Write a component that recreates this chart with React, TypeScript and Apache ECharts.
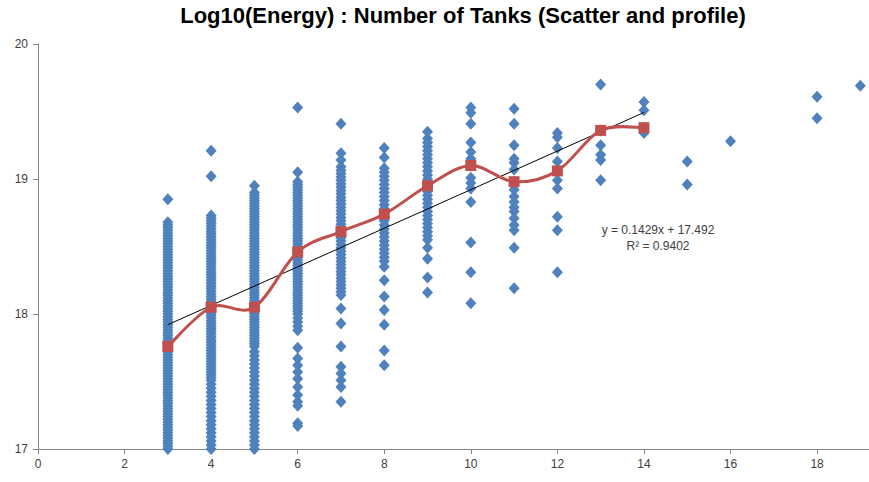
import React, { useEffect, useRef } from "react";
import * as echarts from "echarts";

const titleText = "Log10(Energy) : Number of Tanks (Scatter and profile)";

const scatterTanks = [3, 4, 5, 6, 7, 8, 9, 10, 11, 12, 13, 14, 15, 16, 18, 19];

const energyTanks3 = [18.85,
  18.68, 18.66, 18.64, 18.62, 18.6, 18.58, 18.56, 18.54, 18.52, 18.5, 18.48, 18.46, 18.44, 18.42, 18.4,
  18.38, 18.36, 18.34, 18.32, 18.3, 18.28, 18.26, 18.24, 18.22, 18.2, 18.18, 18.16, 18.14, 18.12, 18.1,
  18.08, 18.06, 18.04, 18.02, 18.0, 17.98, 17.96, 17.94, 17.92, 17.9, 17.88, 17.86, 17.84, 17.82, 17.8,
  17.78, 17.76, 17.74, 17.72, 17.7, 17.68, 17.66, 17.64, 17.62, 17.6, 17.58, 17.56, 17.54, 17.52, 17.5,
  17.48, 17.46, 17.44, 17.42, 17.4, 17.38, 17.36, 17.34, 17.32, 17.3, 17.28, 17.26, 17.24, 17.22, 17.2,
  17.18, 17.16, 17.14, 17.12, 17.1, 17.08, 17.06, 17.04, 17.02, 17.0];
const energyTanks4 = [19.21, 19.02,
  18.73, 18.71, 18.69, 18.67, 18.65, 18.63, 18.61, 18.59, 18.57, 18.55, 18.53, 18.51, 18.49, 18.47, 18.45,
  18.43, 18.41, 18.39, 18.37, 18.35, 18.33, 18.31, 18.29, 18.27, 18.25, 18.23, 18.21, 18.19, 18.17, 18.15,
  18.13, 18.11, 18.09, 18.07, 18.05, 18.03, 18.01, 17.99, 17.97, 17.95, 17.93, 17.91, 17.89, 17.87, 17.85,
  17.83, 17.81, 17.79, 17.77, 17.75, 17.73, 17.71, 17.69, 17.67, 17.65, 17.63, 17.61, 17.59, 17.57, 17.55,
  17.53, 17.51, 17.48, 17.45, 17.42, 17.39, 17.36, 17.33, 17.3, 17.27, 17.24, 17.21, 17.18, 17.15, 17.12,
  17.09, 17.06, 17.03, 17.0];
const energyTanks5 = [18.95,
  18.9, 18.88, 18.86, 18.84, 18.82, 18.8, 18.78, 18.76, 18.74, 18.72, 18.7, 18.68, 18.66, 18.64, 18.62,
  18.6, 18.58, 18.56, 18.54, 18.52, 18.5, 18.48, 18.46, 18.44, 18.42, 18.4, 18.38, 18.36, 18.34, 18.32,
  18.3, 18.28, 18.26, 18.24, 18.22, 18.2, 18.18, 18.16, 18.14, 18.12, 18.1, 18.08, 18.06, 18.04, 18.02,
  18.0, 17.98, 17.96, 17.94, 17.92, 17.9, 17.88, 17.86, 17.84, 17.82, 17.8, 17.78, 17.76,
  17.72, 17.69, 17.66, 17.63, 17.6, 17.57, 17.54, 17.51, 17.48, 17.45, 17.42, 17.39, 17.36, 17.33, 17.3,
  17.27, 17.24, 17.21, 17.18, 17.15, 17.12, 17.09, 17.06, 17.03, 17.0];
const energyTanks6 = [19.53, 19.05,
  18.98, 18.96, 18.94, 18.92, 18.9, 18.88, 18.86, 18.84, 18.82, 18.8, 18.78, 18.76, 18.74, 18.72, 18.7,
  18.68, 18.66, 18.64, 18.62, 18.6, 18.58, 18.56, 18.54, 18.52, 18.5, 18.48, 18.46, 18.44, 18.42, 18.4,
  18.38, 18.36, 18.34, 18.32, 18.3, 18.28, 18.26, 18.24, 18.22, 18.2, 18.18, 18.16, 18.14, 18.12, 18.1,
  18.08, 18.06, 18.04, 18.02, 18.0, 17.97, 17.94, 17.91, 17.88,
  17.75, 17.67, 17.62, 17.57, 17.52, 17.46, 17.4, 17.35, 17.32, 17.19, 17.17];
const energyTanks7 = [19.41, 19.19, 19.14,
  19.09, 19.065, 19.04, 19.015, 18.99, 18.965, 18.94, 18.915, 18.89, 18.865, 18.84, 18.815, 18.79, 18.765,
  18.74, 18.715, 18.69, 18.665, 18.64, 18.615, 18.59, 18.565, 18.54, 18.515, 18.49, 18.465, 18.44, 18.415,
  18.39, 18.365, 18.34, 18.315, 18.29, 18.265, 18.24, 18.215, 18.19, 18.165, 18.14,
  18.04, 17.93, 17.76, 17.61, 17.56, 17.51, 17.46, 17.35];
const energyTanks8 = [19.23, 19.16,
  19.08, 19.05, 19.02, 18.99, 18.96, 18.93, 18.9, 18.87, 18.84, 18.81, 18.78, 18.75, 18.72, 18.69, 18.66,
  18.63, 18.6, 18.57, 18.54, 18.51, 18.48, 18.45, 18.42, 18.39,
  18.35, 18.25, 18.13, 18.03, 17.92, 17.73, 17.62];
const energyTanks9 = [19.35,
  19.3, 19.27, 19.24, 19.21, 19.18, 19.15, 19.12, 19.09, 19.06, 19.03, 19.0, 18.97, 18.94, 18.91, 18.88,
  18.85, 18.82, 18.79, 18.76, 18.73, 18.7, 18.67, 18.64, 18.61, 18.58, 18.55,
  18.49, 18.41, 18.27, 18.16];
const energyTanks10 = [19.53, 19.49, 19.41, 19.27, 19.2, 19.15, 19.1, 19.01, 18.97, 18.93, 18.83, 18.53, 18.31, 18.08];
const energyTanks11 = [19.52, 19.41, 19.25, 19.15, 19.12, 19.07, 18.98, 18.92, 18.87, 18.83, 18.79, 18.76, 18.71, 18.66, 18.62, 18.49, 18.19];
const energyTanks12 = [19.34, 19.31, 19.23, 19.13, 19.05, 18.99, 18.93, 18.72, 18.62, 18.31];
const energyTanks13 = [19.7, 19.36, 19.25, 19.18, 19.14, 18.99];
const energyTanks14 = [19.57, 19.51, 19.38, 19.34];
const energyTanks15 = [19.13, 18.96];
const energyTanks16 = [19.28];
const energyTanks18 = [19.61, 19.45];
const energyTanks19 = [19.69];

const scatterLogEnergy = [
  energyTanks3, energyTanks4, energyTanks5, energyTanks6, energyTanks7, energyTanks8,
  energyTanks9, energyTanks10, energyTanks11, energyTanks12, energyTanks13, energyTanks14,
  energyTanks15, energyTanks16, energyTanks18, energyTanks19,
];

const profileTanks = [3, 4, 5, 6, 7, 8, 9, 10, 11, 12, 13, 14];
const profileMeans = [17.76, 18.05, 18.05, 18.46, 18.61, 18.74, 18.95, 19.1, 18.98, 19.06, 19.36, 19.38];

const trendSlope = 0.1429;
const trendIntercept = 17.492;
const trendRange = [3, 14];
const equationLines = ["y = 0.1429x + 17.492", "R² = 0.9402"];

const xTicks = [0, 2, 4, 6, 8, 10, 12, 14, 16, 18];
const yTicks = [17, 18, 19, 20];

export default function App() {
  const ref = useRef<HTMLDivElement>(null);
  useEffect(() => {
    const chart = echarts.init(ref.current!, null, { renderer: "svg" });
    const scatterData: number[][] = [];
    scatterTanks.forEach((t, i) => {
      scatterLogEnergy[i].forEach((v) => scatterData.push([t, v]));
    });
    const profileData = profileTanks.map((t, i) => [t, profileMeans[i]]);
    const trendData = trendRange.map((t) => [t, trendSlope * t + trendIntercept]);
    const font = "'Liberation Sans', Arial, sans-serif";
    const axisCommon = {
      axisLine: { show: true, lineStyle: { color: "#868686", width: 1 } },
      axisTick: { show: true, inside: false, length: 5, lineStyle: { color: "#868686" } },
      splitLine: { show: false },
    };

    // Excel-like smoothed profile: cardinal (Catmull-Rom style) Bezier segments
    const renderSmoothSegment = (params: any, api: any) => {
      const i = params.dataIndex;
      const n = profileData.length;
      if (i >= n - 1) return null;
      const pts = profileData.map((d) => api.coord(d));
      const p0 = pts[Math.max(i - 1, 0)];
      const p1 = pts[i];
      const p2 = pts[i + 1];
      const p3 = pts[Math.min(i + 2, n - 1)];
      const k = 1 / 6;
      return {
        type: "bezierCurve",
        shape: {
          x1: p1[0],
          y1: p1[1],
          cpx1: p1[0] + (p2[0] - p0[0]) * k,
          cpy1: p1[1] + (p2[1] - p0[1]) * k,
          cpx2: p2[0] - (p3[0] - p1[0]) * k,
          cpy2: p2[1] - (p3[1] - p1[1]) * k,
          x2: p2[0],
          y2: p2[1],
        },
        style: { stroke: "#C0504D", lineWidth: 3, fill: null, lineCap: "round" },
      };
    };

    chart.setOption({
      animation: false,
      backgroundColor: "#ffffff",
      grid: { left: 38, top: 44, width: 831, height: 405, containLabel: false },
      xAxis: {
        type: "value",
        min: 0,
        max: 19.2,
        interval: 2,
        ...axisCommon,
        axisTick: { ...axisCommon.axisTick, customValues: xTicks },
        axisLabel: {
          customValues: xTicks,
          margin: 9,
          fontSize: 12,
          fontFamily: font,
          color: "#404040",
          formatter: (v: number) => (xTicks.includes(v) ? String(v) : ""),
        },
      },
      yAxis: {
        type: "value",
        min: 17,
        max: 20,
        interval: 1,
        ...axisCommon,
        axisTick: { ...axisCommon.axisTick, customValues: yTicks },
        axisLabel: {
          customValues: yTicks,
          margin: 10,
          fontSize: 12,
          fontFamily: font,
          color: "#404040",
        },
      },
      series: [
        {
          type: "scatter",
          data: scatterData,
          symbol: "diamond",
          symbolSize: [11, 12],
          itemStyle: { color: "#4F81BD", opacity: 1 },
          clip: false,
          z: 2,
        },
        {
          type: "line",
          data: trendData,
          symbol: "none",
          lineStyle: { color: "#000000", width: 1 },
          z: 3,
        },
        {
          type: "custom",
          data: profileData,
          encode: { x: 0, y: 1 },
          renderItem: renderSmoothSegment,
          clip: false,
          z: 4,
        },
        {
          type: "scatter",
          data: profileData,
          symbol: "rect",
          symbolSize: 11,
          itemStyle: { color: "#C0504D", opacity: 1 },
          z: 5,
        },
      ],
      graphic: [
        {
          type: "text",
          x: 463,
          y: 15,
          style: {
            text: titleText,
            font: `bold 22px ${font}`,
            fill: "#000000",
            textAlign: "center",
            textVerticalAlign: "middle",
          },
        },
        {
          type: "text",
          x: 658,
          y: 230,
          style: {
            text: equationLines[0],
            font: `12px ${font}`,
            fill: "#404040",
            textAlign: "center",
            textVerticalAlign: "middle",
          },
        },
        {
          type: "text",
          x: 658,
          y: 246,
          style: {
            text: equationLines[1],
            font: `12px ${font}`,
            fill: "#404040",
            textAlign: "center",
            textVerticalAlign: "middle",
          },
        },
      ],
    });
    return () => chart.dispose();
  }, []);
  return (
    <div
      ref={ref}
      style={{ position: "fixed", left: 0, top: 0, width: 869, height: 482, background: "#fff" }}
    />
  );
}
